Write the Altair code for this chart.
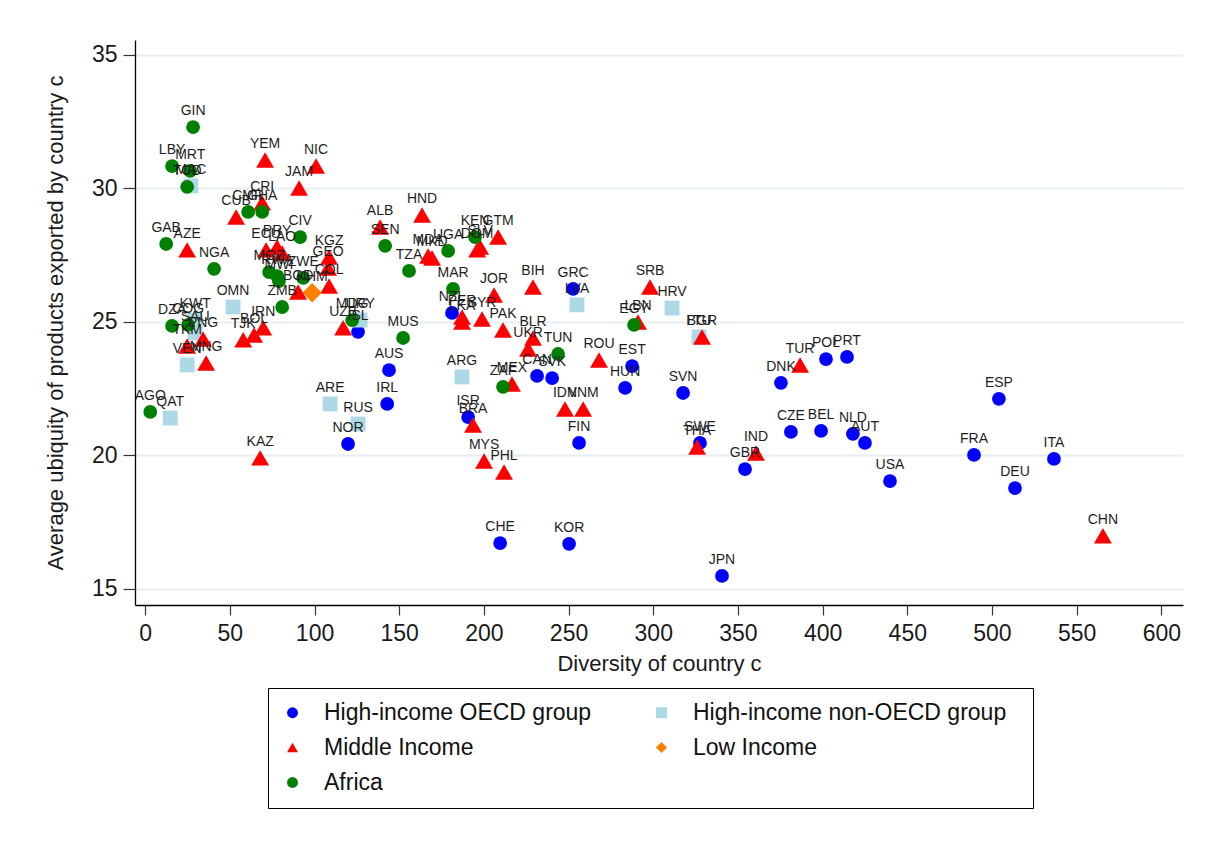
import altair as alt
import pandas as pd

# ---- data ----
groups = ["High-income OECD group", "High-income non-OECD group", "Middle Income", "Low Income", "Africa"]
# legend (filled column by column) shows: OECD | non-OECD / Middle | Low / Africa
legend_order = ["High-income OECD group", "Middle Income", "Africa", "High-income non-OECD group", "Low Income"]
legend_colors = ["#0000FF", "#FF0000", "#008000", "#ADD8E6", "#FF8000"]
legend_shapes = ["circle", "triangle-up", "circle", "square", "diamond"]
marker_size = {"High-income OECD group": 190, "High-income non-OECD group": 220,
               "Middle Income": 320, "Low Income": 380, "Africa": 190}

oecd_codes = ["ISL", "AUS", "IRL", "NOR", "NZL", "ISR", "CAN", "SVK", "GRC", "CHE", "KOR", "FIN", "EST", "HUN", "SVN",
              "SWE", "JPN", "GBR", "DNK", "CZE", "BEL", "NLD", "AUT", "POL", "PRT", "USA", "ESP", "FRA", "DEU", "ITA"]
oecd_x = [125.7, 144.0, 142.9, 119.8, 181.2, 190.7, 231.4, 240.3, 252.7, 209.6, 250.3, 256.2, 287.5, 283.4, 317.6,
          327.6, 340.6, 354.2, 375.4, 381.3, 399.1, 417.9, 425.0, 402.0, 414.4, 439.8, 504.1, 489.4, 513.6, 536.6]
oecd_y = [24.63, 23.20, 21.93, 20.43, 25.34, 21.44, 22.98, 22.90, 26.24, 16.72, 16.69, 20.47, 23.35, 22.53, 22.34,
          20.47, 15.49, 19.49, 22.72, 20.88, 20.92, 20.81, 20.47, 23.61, 23.69, 19.04, 22.12, 20.02, 18.78, 19.87]

nonoecd_codes = ["MAC", "OMN", "KWT", "SAU", "VEN", "QAT", "ARE", "RUS", "URY", "ARG", "LVA", "HRV", "LTU"]
nonoecd_x = [27.0, 51.9, 29.5, 29.5, 24.8, 14.8, 109.2, 125.7, 126.9, 187.1, 255.0, 311.1, 327.0]
nonoecd_y = [30.10, 25.56, 25.07, 24.59, 23.39, 21.40, 21.93, 21.18, 25.07, 22.94, 25.64, 25.52, 24.44]

middle_codes = ["YEM", "NIC", "JAM", "CUB", "CRI", "AZE", "ECU", "PRY", "LAO", "KGZ", "GEO", "COL", "BGD", "ALB",
                "HND", "MDA", "MKD", "SLV", "DOM", "GTM", "JOR", "BIH", "PER", "LKA", "SYR", "PAK", "UZB", "IRN",
                "BOL", "TJK", "TKM", "PNG", "MNG", "KAZ", "BRA", "MYS", "PHL", "MEX", "BLR", "UKR", "IDN", "VNM",
                "SRB", "LBN", "BGR", "ROU", "THA", "IND", "TUR", "CHN"]
middle_x = [70.8, 100.9, 90.9, 53.7, 69.1, 24.8, 71.4, 77.9, 80.9, 108.6, 108.0, 108.6, 90.3, 138.7,
            163.5, 167.1, 169.4, 197.8, 196.0, 208.4, 206.0, 229.0, 187.1, 187.1, 198.9, 211.3, 116.9, 69.7,
            64.3, 57.9, 24.8, 34.2, 36.0, 67.9, 193.6, 200.1, 211.9, 216.6, 229.0, 226.1, 247.9, 258.6,
            298.1, 291.0, 328.8, 268.0, 325.9, 360.7, 386.7, 565.5]
middle_y = [31.07, 30.84, 30.02, 28.93, 29.46, 27.70, 27.70, 27.81, 27.58, 27.43, 27.02, 26.35, 26.12, 28.56,
            29.01, 27.47, 27.40, 27.81, 27.70, 28.18, 26.01, 26.31, 25.19, 25.00, 25.11, 24.70, 24.78, 24.78,
            24.51, 24.33, 24.10, 24.36, 23.46, 19.91, 21.14, 19.79, 19.38, 22.68, 24.40, 23.99, 21.74, 21.74,
            26.31, 25.00, 24.44, 23.58, 20.32, 20.09, 23.39, 16.99]

low_codes = ["KHM"]
low_x = [98.6]
low_y = [26.09]

africa_codes = ["GIN", "LBY", "MRT", "TCD", "GAB", "NGA", "CIV", "CMR", "GHA", "MOZ", "RWA", "MWI", "ZWE", "ZMB",
                "SEN", "UGA", "TZA", "KEN", "MAR", "MDG", "MUS", "DZA", "COG", "AGO", "ZAF", "TUN", "EGY"]
africa_x = [28.3, 15.9, 26.6, 24.8, 12.4, 40.7, 91.5, 60.8, 69.1, 73.2, 78.0, 79.0, 93.3, 80.9,
            141.7, 178.9, 155.8, 194.8, 181.8, 122.2, 152.3, 15.9, 25.4, 3.0, 211.3, 243.8, 288.7]
africa_y = [32.30, 30.84, 30.66, 30.06, 27.92, 26.99, 28.18, 29.12, 29.12, 26.87, 26.72, 26.53, 26.65, 25.56,
            27.85, 27.66, 26.91, 28.18, 26.24, 25.07, 24.40, 24.85, 24.89, 21.63, 22.57, 23.80, 24.89]

x_ticks = [0, 50, 100, 150, 200, 250, 300, 350, 400, 450, 500, 550, 600]
y_ticks = [15, 20, 25, 30, 35]

# ---- table (drawing order: OECD, non-OECD, Middle, Low, Africa on top) ----
parts = []
for g, codes, xs, ys in [
    (groups[0], oecd_codes, oecd_x, oecd_y),
    (groups[1], nonoecd_codes, nonoecd_x, nonoecd_y),
    (groups[2], middle_codes, middle_x, middle_y),
    (groups[3], low_codes, low_x, low_y),
    (groups[4], africa_codes, africa_x, africa_y),
]:
    parts.append(pd.DataFrame({"code": codes, "diversity": xs, "ubiquity": ys, "group": g}))
df = pd.concat(parts, ignore_index=True)
df["order"] = df.index
df["msize"] = df["group"].map(marker_size)

FONT = "Liberation Sans"

xenc = alt.X("diversity:Q", title="Diversity of country c",
             scale=alt.Scale(domain=[-6, 612.8], nice=False, zero=False),
             axis=alt.Axis(values=x_ticks, grid=False, tickSize=10, labelPadding=7,
                           titlePadding=8, labelFontSize=23, titleFontSize=22))
yenc = alt.Y("ubiquity:Q", title="Average ubiquity of products exported by country c",
             scale=alt.Scale(domain=[14.4, 35.56], nice=False, zero=False),
             axis=alt.Axis(values=y_ticks, grid=True, tickSize=12, labelPadding=6,
                           titlePadding=24, labelFontSize=23, titleFontSize=22))

base = alt.Chart(df)

points = base.mark_point(filled=True, opacity=1, strokeWidth=0).encode(
    x=xenc,
    y=yenc,
    color=alt.Color("group:N", scale=alt.Scale(domain=legend_order, range=legend_colors),
                    legend=alt.Legend(orient="none", legendX=133, legendY=648, columns=2,
                                      title=" ", titleOrient="right", titlePadding=14,
                                      labelFontSize=23, labelLimit=0, labelOffset=20, symbolSize=120,
                                      columnPadding=58, rowPadding=11, padding=13,
                                      strokeColor="black", fillColor="white",
                                      symbolStrokeWidth=0, labelColor="#111")),
    shape=alt.Shape("group:N", scale=alt.Scale(domain=legend_order, range=legend_shapes)),
    size=alt.Size("msize:Q", scale=None),
    order=alt.Order("order:Q"),
)

labels = base.mark_text(fontSize=14, dy=-12, baseline="alphabetic", align="center",
                        color="#1e1e1e", font=FONT).encode(
    x="diversity:Q",
    y="ubiquity:Q",
    text="code:N",
)

chart = alt.layer(points, labels).properties(
    width=1048, height=565,
    autosize=alt.AutoSizeParams(type="none"),
    padding={"left": 135, "top": 40, "right": 23, "bottom": 239},
    background="white",
).configure(font=FONT).configure_view(stroke=None).configure_axis(
    domainColor="black", domainWidth=1.3, tickColor="#333", tickWidth=1.2,
    gridColor="#E6EEF1", gridWidth=2, labelColor="#1a1a1a", titleColor="#1a1a1a",
    labelFont=FONT, titleFont=FONT, titleFontWeight="normal",
)

chart.save("out.html", embed_options={"renderer": "svg", "actions": False})
